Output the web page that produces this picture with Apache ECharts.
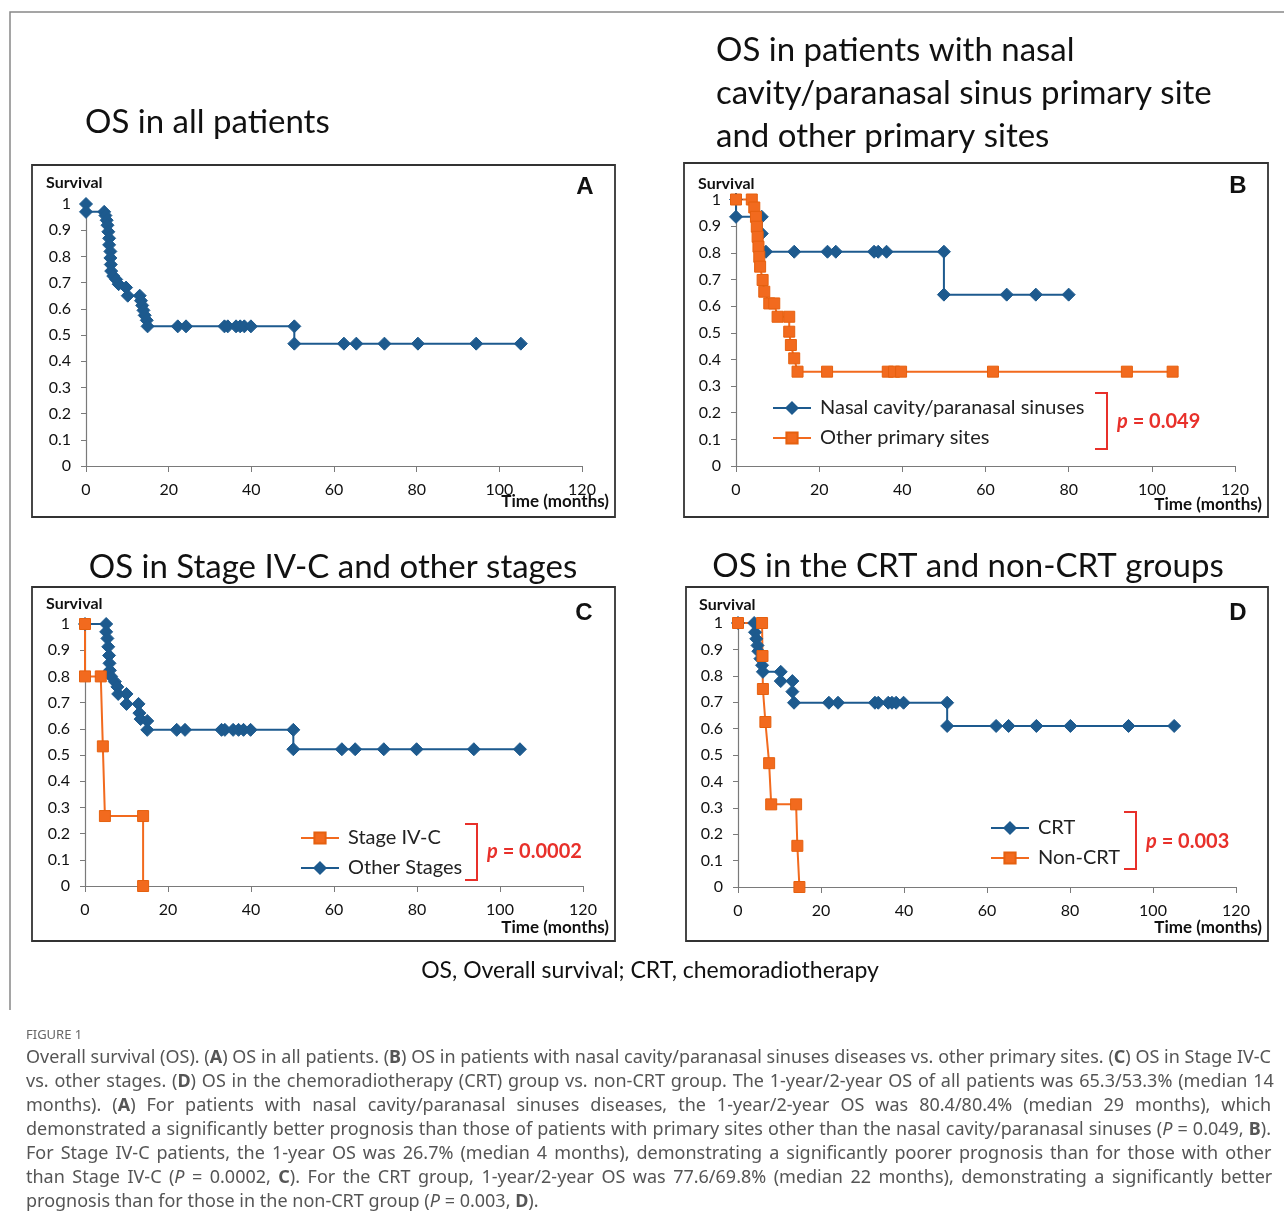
<!DOCTYPE html>
<html>
<head>
<meta charset="utf-8">
<script src="https://cdn.jsdelivr.net/npm/echarts@6/dist/echarts.min.js"></script>
<style>
    html, body { margin: 0; padding: 0; background: #fff; }
    #fig { width: 1284px; height: 1218px; }
</style>
</head>
<body>
<div id="fig"></div>
<script>
    // Kaplan-Meier points: time (months) / survival
    // A - all patients
    const allT = [0, 0, 4.4, 4.7, 5.0, 5.2, 5.4, 5.6, 5.6, 5.9, 5.9, 6.0, 6.1, 6.6, 7.3, 7.9, 9.7, 10.1, 13.0, 13.3, 13.6, 13.9, 14.2, 14.7, 14.9, 22.2, 24.2, 33.5, 34.3, 36.3, 37.3, 38.3, 39.9, 50.4, 50.4, 62.4, 65.4, 72.2, 80.3, 94.4, 105.2];
    const allS = [1, 0.97, 0.97, 0.956, 0.938, 0.919, 0.894, 0.869, 0.844, 0.819, 0.794, 0.769, 0.744, 0.725, 0.712, 0.694, 0.681, 0.65, 0.65, 0.631, 0.613, 0.594, 0.575, 0.556, 0.533, 0.533, 0.533, 0.533, 0.533, 0.533, 0.533, 0.533, 0.533, 0.533, 0.467, 0.467, 0.467, 0.467, 0.467, 0.467, 0.467];

    // B - nasal cavity/paranasal sinuses vs other primary sites
    const nasalT = [0, 0, 6.2, 6.2, 6.4, 7.2, 14, 22, 24, 33.2, 34.2, 36.2, 50, 50, 65.1, 72.1, 80];
    const nasalS = [1, 0.935, 0.935, 0.872, 0.804, 0.804, 0.804, 0.804, 0.804, 0.804, 0.804, 0.804, 0.804, 0.643, 0.643, 0.643, 0.643];
    const otherSiteT = [0, 3.8, 4.4, 4.8, 5.0, 5.2, 5.4, 5.6, 5.8, 6.4, 6.8, 8.0, 9.2, 10.0, 12.8, 12.8, 13.2, 14.0, 14.8, 21.9, 36.5, 38, 39.7, 61.8, 94, 105];
    const otherSiteS = [1, 1, 0.97, 0.935, 0.898, 0.86, 0.823, 0.785, 0.748, 0.698, 0.654, 0.61, 0.61, 0.56, 0.56, 0.504, 0.454, 0.404, 0.354, 0.354, 0.354, 0.354, 0.354, 0.354, 0.354, 0.354];

    // C - stage IV-C vs other stages
    const stageT = [0, 0, 3.8, 4.3, 4.8, 14, 14];
    const stageS = [1, 0.8, 0.8, 0.533, 0.267, 0.267, 0];
    const otherStageT = [0, 5.1, 5.1, 5.4, 5.6, 5.8, 5.9, 6.0, 6.3, 7.2, 7.8, 8.0, 10.0, 10.0, 12.9, 13.1, 13.4, 15, 15, 22.1, 24.1, 32.9, 33.7, 35.7, 37, 38.2, 39.9, 50.2, 50.2, 61.9, 65.1, 72.0, 79.9, 93.7, 104.8];
    const otherStageS = [1, 1, 0.97, 0.945, 0.913, 0.88, 0.85, 0.823, 0.8, 0.78, 0.76, 0.733, 0.733, 0.695, 0.695, 0.66, 0.637, 0.63, 0.596, 0.596, 0.596, 0.596, 0.596, 0.596, 0.596, 0.596, 0.596, 0.596, 0.522, 0.522, 0.522, 0.522, 0.522, 0.522, 0.522];

    // D - CRT vs non-CRT
    const crtT = [0, 3.9, 4.1, 4.4, 4.7, 4.9, 5.4, 5.8, 6.0, 10.3, 10.3, 13.1, 13.1, 13.5, 21.9, 24.1, 33, 33.8, 36.2, 37.1, 38.1, 39.9, 50.4, 50.4, 62.2, 65.2, 71.9, 80.1, 94.1, 105.1];
    const crtS = [1, 1, 0.965, 0.94, 0.915, 0.893, 0.865, 0.84, 0.815, 0.815, 0.78, 0.78, 0.74, 0.698, 0.698, 0.698, 0.698, 0.698, 0.698, 0.698, 0.698, 0.698, 0.698, 0.61, 0.61, 0.61, 0.61, 0.61, 0.61, 0.61];
    const nonCrtT = [0, 5.8, 5.9, 6.0, 6.6, 7.5, 8.0, 14.0, 14.3, 14.8];
    const nonCrtS = [1, 1, 0.875, 0.75, 0.625, 0.469, 0.313, 0.313, 0.156, 0];

    const xTicks = [0, 120, 20];   // min, max, step
    const yTicks = [0, 1, 0.1];

    const BLUE = '#1d5a8e';
    const ORANGE = '#f26a1e';
    const FONT = 'Lato';
    const CAP_FONT = 'Noto Sans';

    function pts(t, s) {
        return t.map((v, i) => [v, s[i]]);
    }

    // plot areas of the four panels
    const grids = [
        {left: 86, top: 204, width: 496, height: 262},
        {left: 736, top: 199.5, width: 499, height: 266.5},
        {left: 85, top: 624, width: 498, height: 262},
        {left: 738, top: 623, width: 498, height: 264}
    ];

    const xAxes = grids.map((g, i) => ({
        type: 'value', gridIndex: i,
        min: xTicks[0], max: xTicks[1], interval: xTicks[2],
        axisLine: {show: true, lineStyle: {color: '#7a7a7a', width: 1.2}},
        axisTick: {show: true, length: 6, lineStyle: {color: '#7a7a7a'}},
        axisLabel: {color: '#111', fontFamily: FONT, fontSize: 16, margin: 16},
        splitLine: {show: false}
    }));
    const yAxes = grids.map((g, i) => ({
        type: 'value', gridIndex: i,
        min: yTicks[0], max: yTicks[1], interval: yTicks[2],
        axisLine: {show: true, lineStyle: {color: '#7a7a7a', width: 1.2}},
        axisTick: {show: true, length: 5, lineStyle: {color: '#7a7a7a'}},
        axisLabel: {color: '#111', fontFamily: FONT, fontSize: 16, margin: 15},
        splitLine: {show: false}
    }));

    function curve(name, idx, t, s, kind) {
        let blue = kind === 'blue';
        return {
            name: name, type: 'line', xAxisIndex: idx, yAxisIndex: idx,
            data: pts(t, s),
            symbol: blue ? 'diamond' : 'rect',
            symbolSize: blue ? 13 : 11,
            clip: false,
            lineStyle: {color: blue ? BLUE : ORANGE, width: 2},
            itemStyle: {color: blue ? BLUE : ORANGE, borderColor: blue ? BLUE : '#e5600f', borderWidth: 1}
        };
    }

    const series = [
        curve('All patients', 0, allT, allS, 'blue'),
        curve('Nasal cavity/paranasal sinuses', 1, nasalT, nasalS, 'blue'),
        curve('Other primary sites', 1, otherSiteT, otherSiteS, 'orange'),
        curve('Other Stages', 2, otherStageT, otherStageS, 'blue'),
        curve('Stage IV-C', 2, stageT, stageS, 'orange'),
        curve('CRT', 3, crtT, crtS, 'blue'),
        curve('Non-CRT', 3, nonCrtT, nonCrtS, 'orange')
    ];

    function legend(left, top, names) {
        return {
            left: left, top: top, orient: 'vertical', padding: 0,
            data: names, selectedMode: false,
            itemWidth: 38, itemHeight: 14, itemGap: 10,
            textStyle: {fontFamily: FONT, fontSize: 20, color: '#222', padding: [0, 0, 0, 4]}
        };
    }

    function txt(text, x, y, size, opts) {
        opts = opts || {};
        return {
            type: 'text', z: 10,
            style: {
                text: text, x: x, y: y,
                fontFamily: opts.family || FONT, fontSize: size,
                fontWeight: opts.weight || 'normal',
                fill: opts.color || '#111',
                textAlign: opts.align || 'left', textVerticalAlign: 'middle',
                rich: opts.rich
            }
        };
    }

    function box(x, y, w, h) {
        return {type: 'rect', shape: {x: x, y: y, width: w, height: h}, style: {fill: null, stroke: '#333', lineWidth: 1.8}};
    }

    function bracket(x, y1, y2) {
        return {type: 'polyline', shape: {points: [[x - 12, y1], [x, y1], [x, y2], [x - 12, y2]]},
            style: {fill: null, stroke: '#e8302a', lineWidth: 2}};
    }

    const pRich = {
        i: {fontFamily: FONT, fontSize: 20, fontWeight: 'bold', fontStyle: 'italic', fill: '#e8302a'},
        b: {fontFamily: FONT, fontSize: 20, fontWeight: 'bold', fill: '#e8302a'}
    };

    const captionLines = [
        'Overall survival (OS). ({b|A}) OS in all patients. ({b|B}) OS in patients with nasal cavity/paranasal sinuses diseases vs. other primary sites. ({b|C}) OS in Stage IV-C',
        'vs. other stages. ({b|D}) OS in the chemoradiotherapy (CRT) group vs. non-CRT group. The 1-year/2-year OS of all patients was 65.3/53.3% (median 14',
        'months). ({b|A}) For patients with nasal cavity/paranasal sinuses diseases, the 1-year/2-year OS was 80.4/80.4% (median 29 months), which',
        'demonstrated a significantly better prognosis than those of patients with primary sites other than the nasal cavity/paranasal sinuses ({i|P} = 0.049, {b|B}).',
        'For Stage IV-C patients, the 1-year OS was 26.7% (median 4 months), demonstrating a significantly poorer prognosis than for those with other',
        'than Stage IV-C ({i|P} = 0.0002, {b|C}). For the CRT group, 1-year/2-year OS was 77.6/69.8% (median 22 months), demonstrating a significantly better',
        'prognosis than for those in the non-CRT group ({i|P} = 0.003, {b|D}).'
    ];

    // justify a caption line: spaces become fixed-width rich tokens
    const measureCtx = document.createElement('canvas').getContext('2d');
    function justified(line, size, target, last) {
        let rich = {
            b: {fontFamily: CAP_FONT, fontSize: size, fontWeight: 'bold', fill: '#555'},
            i: {fontFamily: CAP_FONT, fontSize: size, fontStyle: 'italic', fill: '#555'}
        };
        if (last) return {text: line, rich: rich};
        let parts = line.split(/(\{[bi]\|[^}]*\})/).filter(p => p);
        let width = 0, gaps = 0;
        parts.forEach(p => {
            let m = p.match(/^\{([bi])\|([^}]*)\}$/);
            if (m) {
                measureCtx.font = (m[1] === 'b' ? 'bold ' : 'italic ') + size + 'px "' + CAP_FONT + '"';
                width += measureCtx.measureText(m[2]).width;
            } else {
                measureCtx.font = size + 'px "' + CAP_FONT + '"';
                width += measureCtx.measureText(p.replace(/ /g, '')).width;
                gaps += (p.match(/ /g) || []).length;
            }
        });
        let gapW = gaps ? (target - width) / gaps : 0;
        rich.s = {fontFamily: CAP_FONT, fontSize: size, width: gapW};
        let text = parts.map(p => /^\{[bi]\|/.test(p) ? p : p.replace(/ /g, '{s| }')).join('');
        return {text: text, rich: rich};
    }

    let graphics = [
        {type: 'polyline', shape: {points: [[10, 1010], [10, 12], [1284, 12]]}, style: {fill: null, stroke: '#888', lineWidth: 1.5}},
        box(32, 165, 583, 352), box(684, 163, 584, 354), box(32, 587, 583, 354), box(686, 587, 582, 354),
        txt('OS in all patients', 85, 122, 33),
        txt('OS in patients with nasal', 716, 50, 33),
        txt('cavity/paranasal sinus primary site', 716, 93, 33),
        txt('and other primary sites', 716, 136, 33),
        txt('OS in Stage IV-C and other stages', 333, 567, 33, {align: 'center'}),
        txt('OS in the CRT and non-CRT groups', 968, 566, 33, {align: 'center'}),
        txt('A', 585, 187, 24, {weight: 'bold', family: 'Liberation Sans', align: 'center'}),
        txt('B', 1238, 186, 24, {weight: 'bold', family: 'Liberation Sans', align: 'center'}),
        txt('C', 584, 613, 24, {weight: 'bold', family: 'Liberation Sans', align: 'center'}),
        txt('D', 1238, 613, 24, {weight: 'bold', family: 'Liberation Sans', align: 'center'}),
        txt('Survival', 46, 183, 16, {weight: 'bold'}),
        txt('Survival', 698, 184, 16, {weight: 'bold'}),
        txt('Survival', 46, 604, 16, {weight: 'bold'}),
        txt('Survival', 699, 605, 16, {weight: 'bold'}),
        txt('Time (months)', 609, 502, 17, {weight: 'bold', align: 'right'}),
        txt('Time (months)', 1262, 505, 17, {weight: 'bold', align: 'right'}),
        txt('Time (months)', 609, 928, 17, {weight: 'bold', align: 'right'}),
        txt('Time (months)', 1262, 928, 17, {weight: 'bold', align: 'right'}),
        bracket(1107, 393, 449), bracket(477, 824, 880), bracket(1136, 812, 869),
        txt('{i|p}{b| = 0.049}', 1117, 422, 20, {rich: pRich}),
        txt('{i|p}{b| = 0.0002}', 487, 852, 20, {rich: pRich}),
        txt('{i|p}{b| = 0.003}', 1146, 842, 20, {rich: pRich}),
        txt('OS, Overall survival; CRT, chemoradiotherapy', 650, 971, 23, {align: 'center'}),
        txt('FIGURE 1', 26, 1035, 13, {family: CAP_FONT, color: '#666'})
    ];

    function render() {
        let capTexts = captionLines.map((line, i) => {
            let j = justified(line, 18, 1245, i === captionLines.length - 1);
            return txt(j.text, 26, 1058 + i * 24, 18, {family: CAP_FONT, color: '#555', rich: j.rich});
        });

        const option = {
            backgroundColor: '#fff',
            animation: false,
            grid: grids,
            xAxis: xAxes,
            yAxis: yAxes,
            legend: [
                legend(772, 398, ['Nasal cavity/paranasal sinuses', 'Other primary sites']),
                legend(300, 828, ['Stage IV-C', 'Other Stages']),
                legend(990, 818, ['CRT', 'Non-CRT'])
            ],
            series: series,
            graphic: {elements: graphics.concat(capTexts)}
        };

        let chart = echarts.init(document.getElementById('fig'));
        chart.setOption(option);
    }

    render();
</script>
</body>
</html>
